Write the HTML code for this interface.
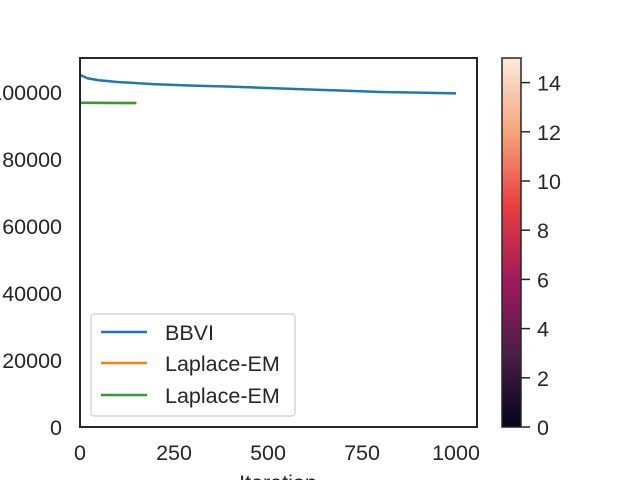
<!DOCTYPE html>
<html><head><meta charset="utf-8"><style>
body{margin:0;background:#fff}
svg text{font-family:"Liberation Sans",sans-serif;font-size:21.5px;fill:#262626}
</style></head><body>
<svg id="c" width="640" height="480" xmlns="http://www.w3.org/2000/svg">
<defs><linearGradient id="rocket" x1="0" y1="1" x2="0" y2="0">
<stop offset="0" stop-color="#03051a"/><stop offset="0.2" stop-color="#4c1d4b"/>
<stop offset="0.4" stop-color="#a11a5b"/><stop offset="0.6" stop-color="#e83f3f"/>
<stop offset="0.8" stop-color="#f6a47c"/><stop offset="1" stop-color="#faebdd"/></linearGradient>
<clipPath id="clip"><rect x="80" y="58" width="397" height="369"/></clipPath></defs>
<g id="plot" clip-path="url(#clip)"></g>
<rect x="80" y="58" width="397" height="369" fill="none" stroke="#262626" stroke-width="2"/>
<g id="ticks"></g>
<text x="278" y="490" text-anchor="middle">Iteration</text>
<g>
<rect x="91" y="314" width="204" height="102" rx="3" fill="#fff" fill-opacity="0.8" stroke="#ccc" stroke-width="1.2"/>
<line x1="101" y1="332" x2="147" y2="332" stroke="#1f77b4" stroke-width="2.5"/>
<text x="165" y="340">BBVI</text>
<line x1="101" y1="363" x2="147" y2="363" stroke="#ff7f0e" stroke-width="2.5"/>
<text x="165" y="371">Laplace-EM</text>
<line x1="101" y1="395" x2="147" y2="395" stroke="#2ca02c" stroke-width="2.5"/>
<text x="165" y="403">Laplace-EM</text>
</g>
<rect x="502" y="58" width="19" height="369" fill="url(#rocket)" stroke="#262626" stroke-width="1.5"/>
<g id="cbticks"></g>
</svg>
<script>
const bbviIter=[0,20,50,100,200,300,400,500,600,700,800,900,1000];
const bbviVals=[105100,104100,103500,103000,102300,101900,101600,101200,100800,100400,100000,99800,99600];
const lapIter=[0,50,100,150];
const lapVals=[96800,96750,96700,96700];
const xTicks=[0,250,500,750,1000];
const yTicks=[0,20000,40000,60000,80000,100000];
const cbTicks=[0,2,4,6,8,10,12,14];
const X=v=>80+v*0.376, Y=v=>427-v*67/20000, CB=v=>427-v*369/15;
const NS="http://www.w3.org/2000/svg";
const plot=document.getElementById('plot'),tk=document.getElementById('ticks'),cb=document.getElementById('cbticks');
function mk(t,a,p){const e=document.createElementNS(NS,t);for(const k in a)e.setAttribute(k,a[k]);p.appendChild(e);return e;}
function line(xs,ys,col,name){const e=mk('polyline',{points:xs.map((x,i)=>X(x)+','+Y(ys[i])).join(' '),fill:'none',stroke:col,'stroke-width':2.5},plot);

}
line(bbviIter,bbviVals,'#1f77b4','bbvi-line');
line(lapIter,lapVals,'#ff7f0e','laplace-em-line-1');
line(lapIter,lapVals,'#2ca02c','laplace-em-line-2');
xTicks.forEach(v=>{
const t=mk('text',{x:X(v),y:460,'text-anchor':'middle'},tk);t.textContent=v;

});
yTicks.forEach(v=>{
const t=mk('text',{x:62,y:Y(v)+8,'text-anchor':'end'},tk);t.textContent=v;

});
cbTicks.forEach(v=>{mk('line',{x1:521,x2:530,y1:CB(v),y2:CB(v),stroke:'#262626','stroke-width':1.5},cb);
const t=mk('text',{x:537,y:CB(v)+8},cb);t.textContent=v;

});
</script>
</body></html>
